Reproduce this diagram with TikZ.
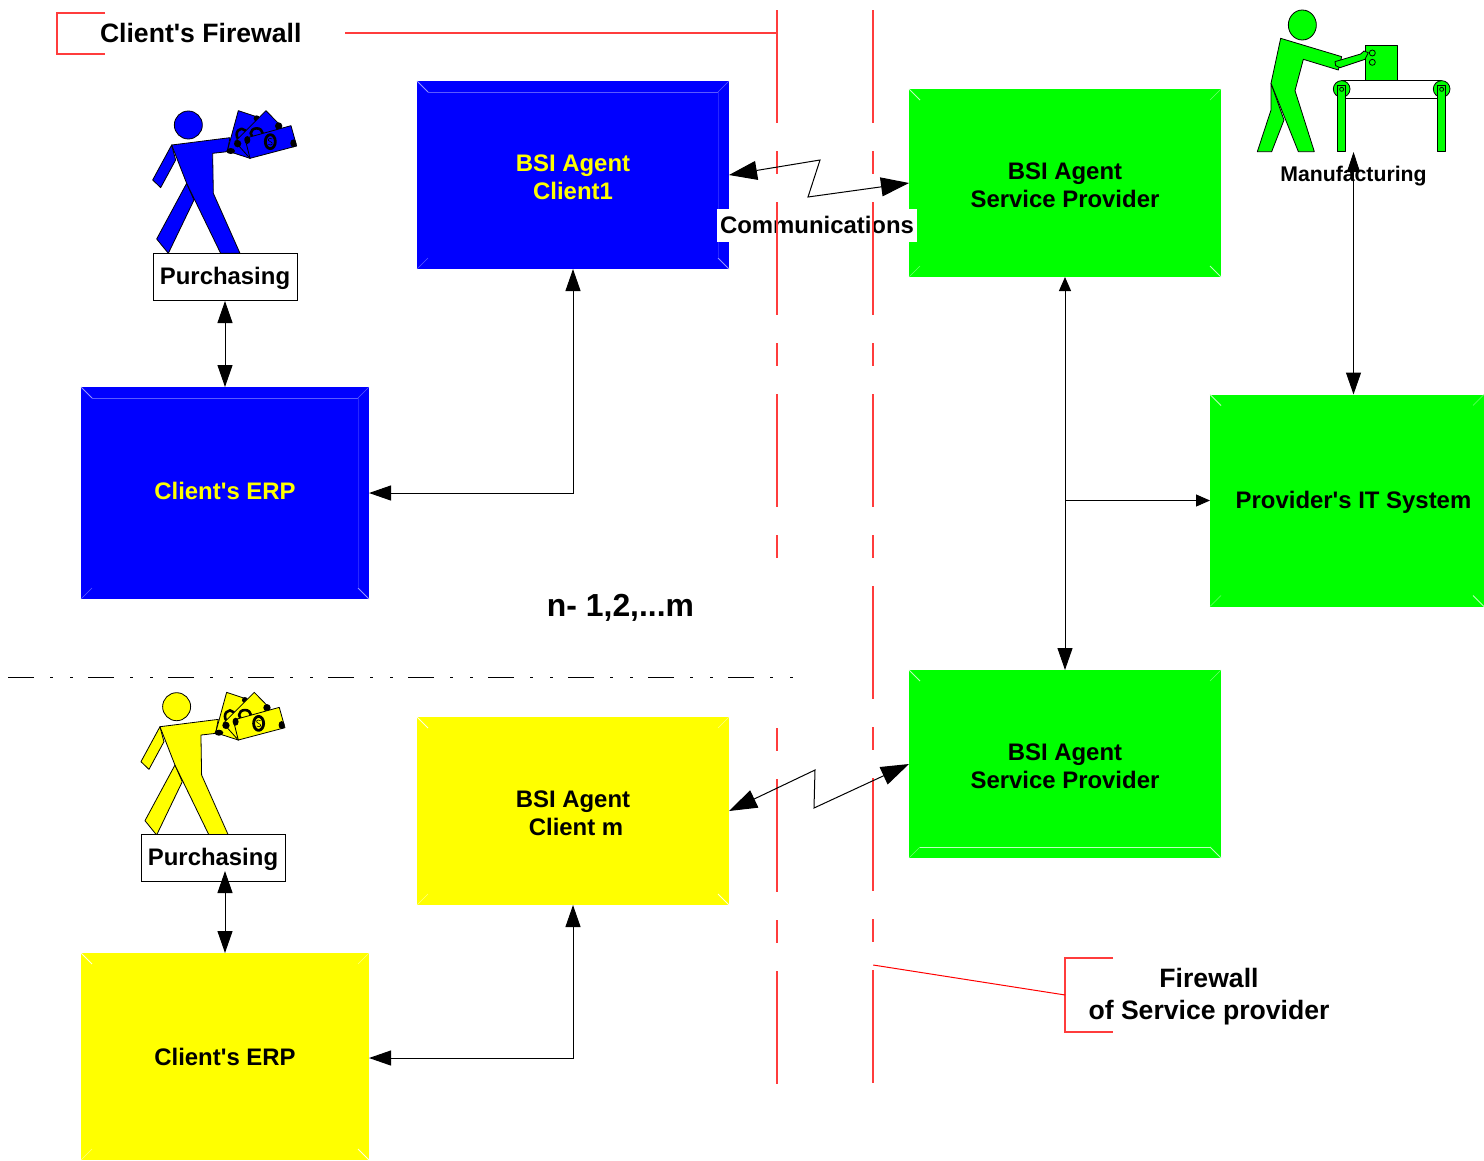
\documentclass[tikz,border=0pt]{standalone}
\usepackage{fontspec}
\newfontfamily\lib{Liberation Sans}
\usetikzlibrary{arrows.meta,calc}
\definecolor{fwred}{RGB}{255,60,60}
\definecolor{pureblue}{RGB}{0,0,255}
\definecolor{puregreen}{RGB}{0,255,0}
\definecolor{pureyellow}{RGB}{255,255,0}
\definecolor{paleblue}{RGB}{90,90,255}
\definecolor{brightblue}{RGB}{150,150,255}
\definecolor{palegreen}{RGB}{110,255,110}
\definecolor{brightgreen}{RGB}{190,255,190}
\definecolor{paleyellow}{RGB}{255,255,130}
\definecolor{brightyellow}{RGB}{255,255,225}
\newcommand{\lbl}[1]{\lib\fontsize{#1}{28}\selectfont\bfseries}
\newcommand{\shifted}[2]{\raisebox{0pt}[\dimexpr\height+\dimexpr#1\relax*2\relax][\depth]{\begin{tabular}{@{}c@{}}#2\end{tabular}}}
\tikzset{
  x=1bp,y=-1bp,
  blockbox/.style={rectangle,inner sep=0pt,outer sep=0pt,align=center,font=\lbl{24}},
  wide/.style={minimum width=312bp,minimum height=188bp},
  conn/.style={draw=black,line width=1bp,{Triangle[length=22bp,width=15bp]}-{Triangle[length=22bp,width=15bp]}},
  comm/.style={draw=black,line width=1bp,{Triangle[length=28bp,width=19bp]}-{Triangle[length=28bp,width=19bp]}},
  fw/.style={draw=fwred,line width=1.5bp},
  fwslant/.style={draw=red,line width=1bp},
  fwdash/.style={fw,dash pattern=on 113bp off 28bp on 23bp off 28bp},
  fig/.style={draw=black,line width=.8bp,line join=round},
  pbox/.style={rectangle,draw=black,fill=white,line width=1bp,minimum width=144bp,minimum height=47bp,inner sep=0pt,font=\lbl{24}},
  label/.style={inner sep=0pt,outer sep=0pt,align=center},
  buyer/.pic={
    \begin{scope}[x=.3333bp,y=-.3333bp,fig,fill=#1]
      \filldraw (125,165)--(68,270)--(92,293)--(137,210)--cycle;
      \filldraw (170,280)--(80,447)--(115,490)--(192,330)--cycle;
      \filldraw (125,165)--(300,143)--(292,185)--(248,190)--(250,310)--(330,490)--(272,490)--(170,280)--cycle;
      \filldraw (175,105) circle (42);
      \filldraw (325,62)--(425,95)--(360,205)--(292,183)--cycle;
      \fill[black] (302,183) ellipse (13 and 9) (380,85) circle (9);
      \draw[line width=2.6bp] (335,134) ellipse (15 and 18);
      \filldraw (408,62)--(455,110)--(360,205)--(315,155)--cycle;
      \fill[black] (323,161) circle (11) (446,108) circle (11);
      \draw[line width=2.6bp] (380,130) ellipse (18 and 15);
      \filldraw (345,145)--(483,107)--(500,168)--(360,205)--cycle;
      \fill[black] (352,150) ellipse (9 and 12) (490,160) ellipse (9 and 12);
      \draw[line width=2.8bp] (421,155) ellipse (15 and 21);
      \draw[line width=.6bp] (427,147) .. controls (415,140) and (410,152) .. (421,155) .. controls (432,158) and (427,170) .. (415,163);
    \end{scope}
  },
}
\newcommand{\bevel}[3]{%
  \draw[#2,line width=.8bp] (#1.north west)--++(11,11) (#1.south east)--++(-11,-11);
  \draw[#3,line width=.6bp] (#1.north east)--++(-11,11) (#1.south west)--++(11,-11);}
\begin{document}
\begin{tikzpicture}
\useasboundingbox (0,0) rectangle (1484,1160);
% blocks
\node[blockbox,wide,fill=pureblue,text=pureyellow] (agenta) at (573,175) {\shifted{5bp}{BSI Agent\\Client1}};
\node[blockbox,fill=pureblue,text=pureyellow,minimum width=288bp,minimum height=212bp] (erpa) at (225,493) {\shifted{1bp}{Client's ERP}};
\node[blockbox,wide,fill=puregreen,text=black] (servicea) at (1065,183) {\shifted{5bp}{BSI Agent\\Service Provider}};
\node[blockbox,fill=puregreen,text=black,minimum width=274bp,minimum height=212bp] (itsys) at (1347,500.5) {\hspace*{13bp}\shifted{2bp}{Provider's IT System}};
\node[blockbox,wide,fill=puregreen,text=black] (serviceb) at (1065,764) {\shifted{5bp}{BSI Agent\\Service Provider}};
\node[blockbox,wide,fill=pureyellow,text=black] (agentm) at (573,811) {\shifted{5bp}{BSI Agent\\\hspace*{6bp}Client m}};
\node[blockbox,fill=pureyellow,text=black,minimum width=288bp,minimum height=207bp] (erpb) at (225,1056.5) {\shifted{3bp}{Client's ERP}};
\bevel{agenta}{brightblue}{paleblue}
\draw[paleblue,line width=.6bp] ([shift={(11,11)}]agenta.north west)--([shift={(-11,11)}]agenta.north east);
\draw[pureblue!85!white,line width=.4bp] ([shift={(-11,11)}]agenta.north east)--([shift={(-11,-11)}]agenta.south east);
\bevel{erpa}{brightblue}{paleblue}
\draw[paleblue,line width=.6bp] ([shift={(11,11)}]erpa.north west)--([shift={(-11,11)}]erpa.north east);
\draw[pureblue!85!white,line width=.4bp] ([shift={(-11,11)}]erpa.north east)--([shift={(-11,-11)}]erpa.south east);
\bevel{servicea}{brightgreen}{palegreen}
\bevel{itsys}{brightgreen}{palegreen}
\bevel{serviceb}{brightgreen}{palegreen}
\draw[brightgreen,line width=.6bp] ([shift={(11,-11)}]serviceb.south west)--([shift={(-11,-11)}]serviceb.south east);
\bevel{agentm}{brightyellow}{paleyellow}
\bevel{erpb}{brightyellow}{paleyellow}
% figures
\pic at (130,90) {buyer=pureblue};
\pic at (118.3,671.7) {buyer=pureyellow};
\node[pbox] (purcha) at (225,277) {\shifted{2bp}{Purchasing}};
\node[pbox] (purchb) at (213,858) {\shifted{2bp}{Purchasing}};
% manufacturing figure
\begin{scope}[shift={(1240,0)},x=.3333bp,y=-.3333bp,fig,fill=puregreen]
  \filldraw (93,250)--(93,330)--(52,455)--(95,455)--(132,360)--cycle;
  \filldraw (122,115)--(305,170)--(295,210)--(190,178)--(165,272)--(223,455)--(175,455)--(93,250)--cycle;
  \filldraw (187,75) ellipse (42 and 45);
  \filldraw[fill=white] (305,241)--(605,241)--(605,295)--(305,295)--cycle;
  \filldraw (376,136) rectangle (472,241);
  \filldraw (285,185)--(362,162)--(372,153)--(385,158)--(375,178)--(300,203)--(287,197)--cycle;
  \draw (397,159) circle (9) (397,187) circle (9);
  \filldraw (305,267) circle (25) (605,267) circle (25);
  \filldraw (292,256) rectangle (317,455) (592,256) rectangle (617,455);
  \draw (305,268) circle (6) (605,268) circle (6);
\end{scope}
\node[label,font=\lbl{21.3}] (mfg) at (1353.5,176) {Manufacturing};
\coordinate (mfgtip) at (1353.5,152);
\coordinate (purchbtip) at (225,871);
\coordinate (branch) at (1066,500.5);
% Communications label
\node[fill=white,inner sep=0pt,minimum width=200bp,minimum height=33bp,font=\lbl{24}] (commlabel) at (817,225) {Communications};
% firewalls
\coordinate (fwatop) at (777.2,10);
\coordinate (fwamid) at (777.2,559);
\coordinate (fwalow) at (777.2,728);
\coordinate (fwabot) at (777.2,1084);
\coordinate (fwbtop) at (873.2,10);
\coordinate (fwbbot) at (873.2,1084);
\draw[fwdash] (fwatop)--(fwamid);
\draw[fwdash,dash phase=141bp] (fwalow)--(fwabot);
\draw[fwdash] (fwbtop)--(fwbbot);
% connectors
\path[conn] (purcha.south)--(erpa.north);
\path[conn] (purchbtip)--(purchbtip |- erpb.north);
\path[conn] (erpa.east)-|(agenta.south);
\path[conn] ([yshift=-1.5bp]erpb.east)-|(agentm.south);
\path[draw=black,line width=1bp,{Triangle[length=14bp,width=12bp]}-{Triangle[length=22bp,width=15bp]}] (servicea.south)--(serviceb.north);
\path[draw=black,line width=1bp,-{Triangle[length=14bp,width=12bp]}] (branch)--(itsys.west |- branch);
\path[draw=black,line width=1bp,{Triangle[length=20bp,width=13bp]}-{Triangle[length=22bp,width=15bp]}] (mfgtip)--(mfgtip |- itsys.north);
\path[comm] (agenta.east)--(820,160)--(808,197)--(servicea.west);
\path[comm] (agentm.east)--(815,770)--(814,808)--(serviceb.west);
% divider
\coordinate (diva) at (8,677.5);
\coordinate (divb) at (793,677.5);
\draw[line width=1bp,dash pattern=on 26bp off 16bp on 3bp off 17bp on 3bp off 15bp] (diva)--(divb);
% captions
\node[label,font=\lbl{26.7},anchor=west] (fwlabela) at (100,32.5) {Client's Firewall};
\node[label,font=\lib\fontsize{26.7}{32}\selectfont\bfseries] (fwlabelb) at (1209,997) {Firewall\\of Service provider};
\node[label,font=\lbl{32}] (nlabel) at (620.5,608) {n- 1,2,...m};
\coordinate (bracketa) at (57.2,33.1);
\draw[fw] (105,13.2)-|(bracketa)|-(105,54.2);
\draw[fw] (345,33.1)--(fwatop |- 0,33.1);
\coordinate (bracketb) at (1065.2,995);
\draw[fw] (1113,958.2)-|(bracketb)|-(1113,1032.2);
\draw[fwslant] (873.2,965)--(bracketb);
\end{tikzpicture}
\end{document}
